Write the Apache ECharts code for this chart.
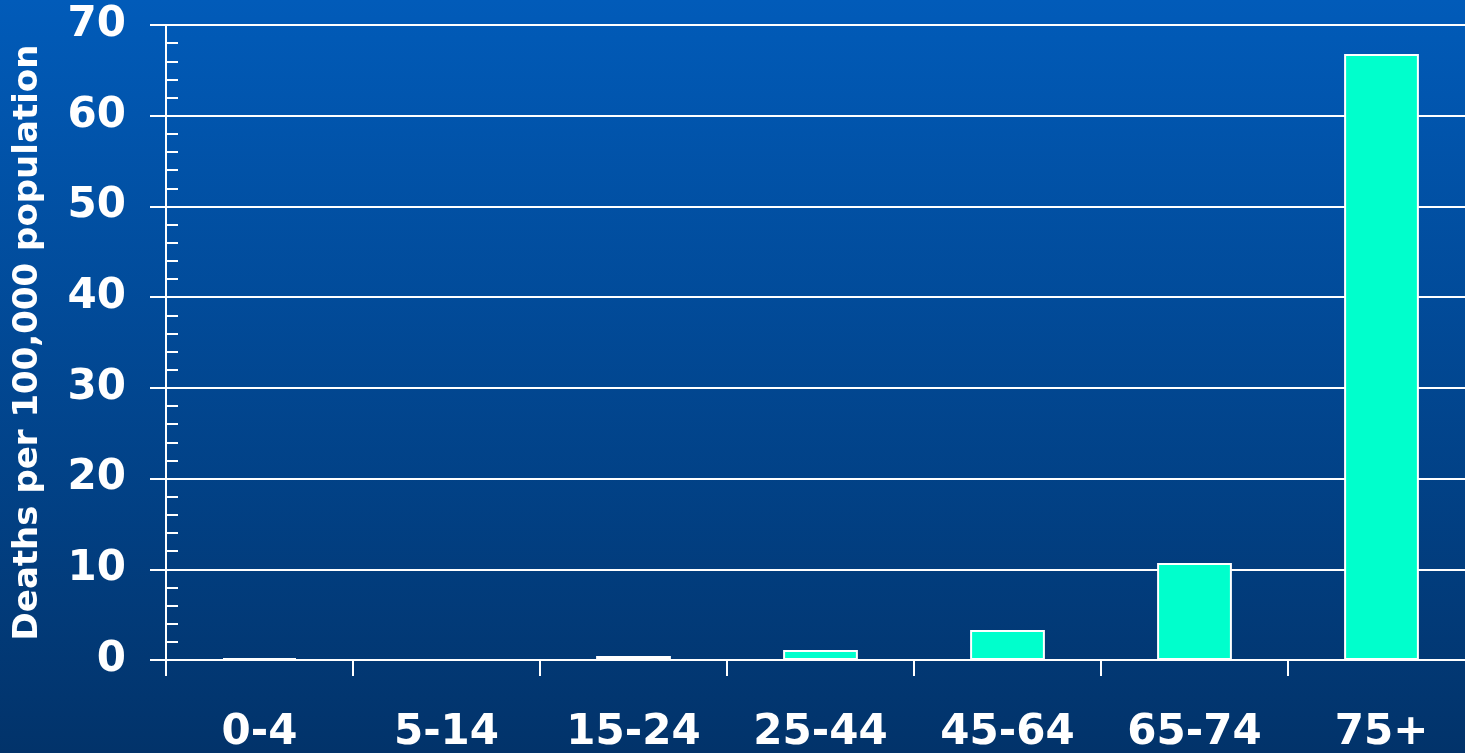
<!DOCTYPE html>
<html>
<head>
<meta charset="utf-8">
<script src="https://cdn.jsdelivr.net/npm/echarts@6/dist/echarts.min.js"></script>
<style>
html,body{margin:0;padding:0;width:1465px;height:753px;overflow:hidden;}
#chart{width:1465px;height:753px;}
</style>
</head>
<body>
<div id="chart"></div>
<script>
const categories = ['0-4', '5-14', '15-24', '25-44', '45-64', '65-74', '75+'];
const deathRates = [0.2, 0.0, 0.45, 1.1, 3.3, 10.7, 66.8];
const yAxisName = 'Deaths per 100,000 population';
const yMin = 0, yMax = 70, yStep = 10, yMinorStep = 2;

const chart = echarts.init(document.getElementById('chart'));
const labelFont = { color: '#ffffff', fontFamily: 'DejaVu Sans', fontWeight: 'bold', fontSize: 42 };
chart.setOption({
  backgroundColor: new echarts.graphic.LinearGradient(0, 0, 0, 1, [
    { offset: 0, color: '#015bb9' },
    { offset: 1, color: '#02336a' }
  ]),
  animation: false,
  grid: { left: 166, right: -10, top: 25, bottom: 93, containLabel: false, outerBoundsMode: 'none' },
  xAxis: {
    type: 'category',
    data: categories,
    axisLine: { lineStyle: { color: '#ffffff', width: 2 } },
    axisTick: { show: true, length: 16, lineStyle: { color: '#ffffff', width: 2 } },
    axisLabel: Object.assign({ margin: 52 }, labelFont)
  },
  yAxis: [{
    type: 'value',
    min: yMin, max: yMax, interval: yStep,
    name: yAxisName,
    nameLocation: 'middle',
    nameGap: 121,
    nameRotate: 90,
    nameTextStyle: { color: '#ffffff', fontFamily: 'DejaVu Sans', fontWeight: 'bold', fontSize: 34 },
    axisLine: { show: true, lineStyle: { color: '#ffffff', width: 2 } },
    axisTick: { show: true, length: 16, lineStyle: { color: '#ffffff', width: 2 } },
    splitLine: { show: true, lineStyle: { color: '#ffffff', width: 2 } },
    axisLabel: Object.assign({ margin: 40 }, labelFont)
  }, {
    type: 'value',
    position: 'left',
    offset: 0,
    min: yMin, max: yMax, interval: yMinorStep,
    axisLine: { show: false },
    axisTick: { show: true, inside: true, length: 12, lineStyle: { color: '#ffffff', width: 2 } },
    splitLine: { show: false },
    axisLabel: { show: false }
  }],
  series: [{
    type: 'bar',
    data: deathRates,
    yAxisIndex: 0,
    barWidth: '40%',
    itemStyle: { color: '#00ffcc', borderColor: '#ffffff', borderWidth: 2 }
  }]
});
</script>
</body>
</html>
